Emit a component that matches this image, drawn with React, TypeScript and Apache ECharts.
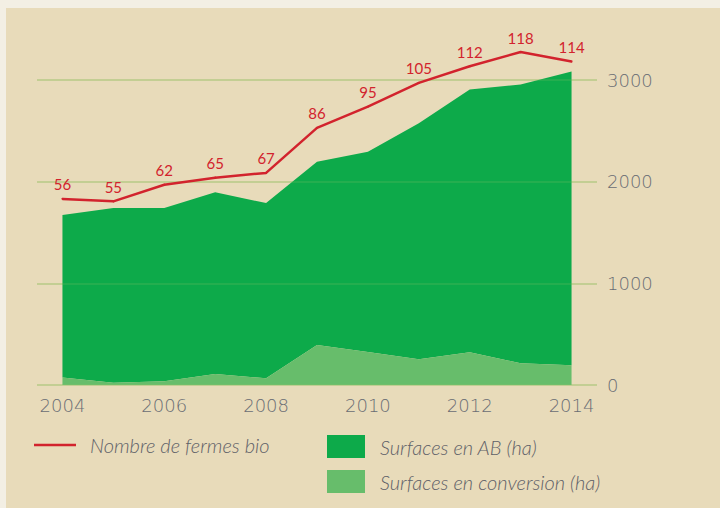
import React, { useEffect, useRef } from "react";
import * as echarts from "echarts";

const years = ["2004", "2005", "2006", "2007", "2008", "2009", "2010", "2011", "2012", "2013", "2014"];
const fermesBio = [56, 55, 62, 65, 67, 86, 95, 105, 112, 118, 114];
const surfacesConversion = [75, 23, 36, 108, 66, 393, 325, 253, 321, 213, 194];
const surfacesAB = [1597, 1717, 1704, 1787, 1724, 1803, 1969, 2322, 2586, 2743, 2890];
const yTicks = [0, 1000, 2000, 3000];

const RED = "#d2232d";
const DARK = "#0daa4a";
const LIGHT = "#67bd6b";
const AXIS_TEXT = "#6a6d74";
const LEGEND_TEXT = "#5f6168";

export default function App() {
  const ref = useRef<HTMLDivElement>(null);
  useEffect(() => {
    if (!ref.current) return;
    const chart = echarts.init(ref.current, undefined, { renderer: "svg" });
    const yMax = yTicks[yTicks.length - 1];
    const legendText = {
      fontFamily: "Lato",
      fontStyle: "italic",
      fontWeight: 300,
      fontSize: 20,
      color: LEGEND_TEXT,
    };
    chart.setOption({
      animation: false,
      backgroundColor: "#f3efe4",
      graphic: [
        {
          type: "rect",
          z: -100,
          silent: true,
          shape: { x: 6, y: 8, width: 714, height: 500 },
          style: { fill: "#e8dbba" },
        },
      ],
      grid: { left: 37, right: 123, top: 80, bottom: 123, containLabel: false },
      xAxis: {
        type: "category",
        data: years,
        boundaryGap: true,
        axisLine: { show: false },
        axisTick: { show: false },
        axisLabel: {
          interval: 1,
          margin: 11,
          color: AXIS_TEXT,
          fontFamily: "DejaVu Sans",
          fontWeight: 300,
          fontSize: 18,
        },
        splitLine: { show: false },
      },
      yAxis: [
        {
          type: "value",
          position: "right",
          min: 0,
          max: yMax,
          interval: 1000,
          axisLine: { show: false },
          axisTick: { show: false },
          axisLabel: {
            margin: 10,
            color: AXIS_TEXT,
            fontFamily: "DejaVu Sans",
            fontWeight: 300,
            fontSize: 18,
            formatter: (v: number) => String(v),
          },
          splitLine: { show: true, lineStyle: { color: "#c8cf9a", width: 2 } },
        },
        {
          type: "value",
          min: -22.5,
          max: 106.2,
          show: false,
          splitLine: { show: false },
        },
        {
          type: "value",
          position: "right",
          min: 0,
          max: yMax,
          interval: 1000,
          z: 5,
          axisLine: { show: false },
          axisTick: { show: false },
          axisLabel: { show: false },
          splitLine: { show: true, lineStyle: { color: "rgba(170,200,110,0.15)", width: 2 } },
        },
      ],
      legend: [
        {
          left: 34,
          top: 435,
          padding: 0,
          icon: "rect",
          itemWidth: 42,
          itemHeight: 2.5,
          data: [{ name: "Nombre de fermes bio", icon: "rect" }],
          textStyle: { ...legendText, padding: [0, 0, 0, 9] },
        },
        {
          left: 327,
          top: 435,
          padding: 0,
          orient: "vertical",
          icon: "rect",
          itemWidth: 38,
          itemHeight: 23,
          itemGap: 12,
          data: ["Surfaces en AB (ha)", "Surfaces en conversion (ha)"],
          textStyle: { ...legendText, padding: [0, 0, 0, 10] },
        },
      ],
      series: [
        {
          name: "Surfaces en conversion (ha)",
          type: "line",
          stack: "surf",
          data: surfacesConversion,
          color: LIGHT,
          symbol: "none",
          clip: false,
          lineStyle: { width: 0 },
          areaStyle: { color: LIGHT, opacity: 1 },
          z: 2,
        },
        {
          name: "Surfaces en AB (ha)",
          type: "line",
          stack: "surf",
          data: surfacesAB,
          color: DARK,
          symbol: "none",
          clip: false,
          lineStyle: { width: 0 },
          areaStyle: { color: DARK, opacity: 1 },
          z: 1,
        },
        {
          name: "Nombre de fermes bio",
          type: "line",
          yAxisIndex: 1,
          data: fermesBio,
          color: RED,
          symbol: "circle",
          symbolSize: 2,
          showSymbol: true,
          showAllSymbol: true,
          itemStyle: { color: RED },
          clip: false,
          lineStyle: { color: RED, width: 2.5 },
          label: {
            show: true,
            position: "top",
            distance: 6,
            color: RED,
            fontFamily: "Lato",
            fontSize: 15,
          },
          labelLayout: { hideOverlap: false },
          z: 10,
        },
      ],
    });
    return () => chart.dispose();
  }, []);
  return (
    <div
      ref={ref}
      style={{ position: "fixed", left: 0, top: 0, width: 720, height: 508 }}
    />
  );
}
